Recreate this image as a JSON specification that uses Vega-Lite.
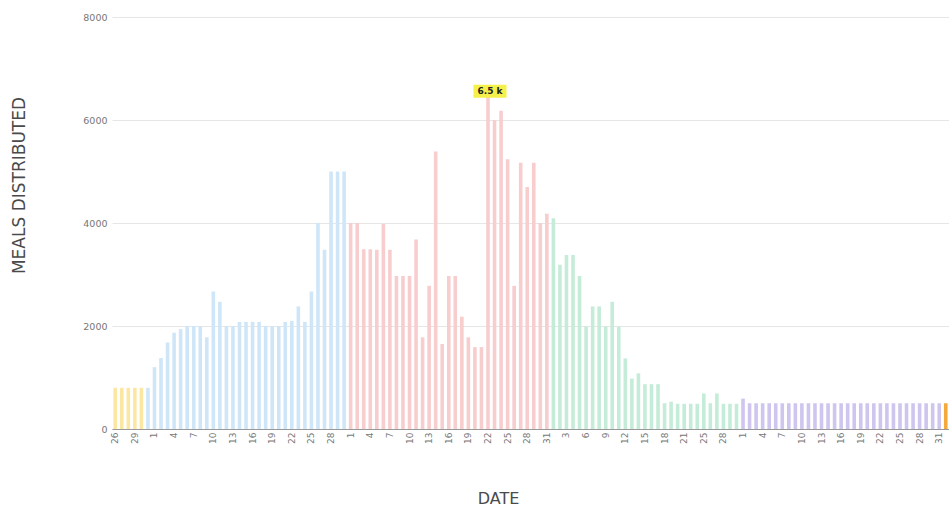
{
  "$schema": "https://vega.github.io/schema/vega-lite/v6.json",
  "width": 837,
  "height": 412,
  "autosize": {"type": "none"},
  "padding": {"left": 112, "top": 17, "right": 0, "bottom": 78},
  "background": "white",
  "config": {"view": {"stroke": null}, "font": "DejaVu Sans"},
  "data": {"values": [
    {"date": "2020-03-26", "meals": 800, "period": "1"},
    {"date": "2020-03-27", "meals": 800, "period": "1"},
    {"date": "2020-03-28", "meals": 800, "period": "1"},
    {"date": "2020-03-29", "meals": 800, "period": "1"},
    {"date": "2020-03-30", "meals": 800, "period": "1"},
    {"date": "2020-03-31", "meals": 800, "period": "2"},
    {"date": "2020-04-01", "meals": 1200, "period": "2"},
    {"date": "2020-04-02", "meals": 1380, "period": "2"},
    {"date": "2020-04-03", "meals": 1680, "period": "2"},
    {"date": "2020-04-04", "meals": 1870, "period": "2"},
    {"date": "2020-04-05", "meals": 1940, "period": "2"},
    {"date": "2020-04-06", "meals": 2000, "period": "2"},
    {"date": "2020-04-07", "meals": 2000, "period": "2"},
    {"date": "2020-04-08", "meals": 2000, "period": "2"},
    {"date": "2020-04-09", "meals": 1780, "period": "2"},
    {"date": "2020-04-10", "meals": 2670, "period": "2"},
    {"date": "2020-04-11", "meals": 2470, "period": "2"},
    {"date": "2020-04-12", "meals": 2000, "period": "2"},
    {"date": "2020-04-13", "meals": 2000, "period": "2"},
    {"date": "2020-04-14", "meals": 2080, "period": "2"},
    {"date": "2020-04-15", "meals": 2080, "period": "2"},
    {"date": "2020-04-16", "meals": 2080, "period": "2"},
    {"date": "2020-04-17", "meals": 2080, "period": "2"},
    {"date": "2020-04-18", "meals": 2000, "period": "2"},
    {"date": "2020-04-19", "meals": 2000, "period": "2"},
    {"date": "2020-04-20", "meals": 2000, "period": "2"},
    {"date": "2020-04-21", "meals": 2080, "period": "2"},
    {"date": "2020-04-22", "meals": 2100, "period": "2"},
    {"date": "2020-04-23", "meals": 2380, "period": "2"},
    {"date": "2020-04-24", "meals": 2080, "period": "2"},
    {"date": "2020-04-25", "meals": 2670, "period": "2"},
    {"date": "2020-04-26", "meals": 4000, "period": "2"},
    {"date": "2020-04-27", "meals": 3480, "period": "2"},
    {"date": "2020-04-28", "meals": 5000, "period": "2"},
    {"date": "2020-04-29", "meals": 5000, "period": "2"},
    {"date": "2020-04-30", "meals": 5000, "period": "2"},
    {"date": "2020-05-01", "meals": 4000, "period": "3"},
    {"date": "2020-05-02", "meals": 4000, "period": "3"},
    {"date": "2020-05-03", "meals": 3490, "period": "3"},
    {"date": "2020-05-04", "meals": 3490, "period": "3"},
    {"date": "2020-05-05", "meals": 3480, "period": "3"},
    {"date": "2020-05-06", "meals": 3980, "period": "3"},
    {"date": "2020-05-07", "meals": 3480, "period": "3"},
    {"date": "2020-05-08", "meals": 2970, "period": "3"},
    {"date": "2020-05-09", "meals": 2970, "period": "3"},
    {"date": "2020-05-10", "meals": 2970, "period": "3"},
    {"date": "2020-05-11", "meals": 3680, "period": "3"},
    {"date": "2020-05-12", "meals": 1780, "period": "3"},
    {"date": "2020-05-13", "meals": 2780, "period": "3"},
    {"date": "2020-05-14", "meals": 5390, "period": "3"},
    {"date": "2020-05-15", "meals": 1650, "period": "3"},
    {"date": "2020-05-16", "meals": 2970, "period": "3"},
    {"date": "2020-05-17", "meals": 2970, "period": "3"},
    {"date": "2020-05-18", "meals": 2180, "period": "3"},
    {"date": "2020-05-19", "meals": 1780, "period": "3"},
    {"date": "2020-05-20", "meals": 1590, "period": "3"},
    {"date": "2020-05-21", "meals": 1590, "period": "3"},
    {"date": "2020-05-22", "meals": 6500, "period": "3"},
    {"date": "2020-05-23", "meals": 6000, "period": "3"},
    {"date": "2020-05-24", "meals": 6180, "period": "3"},
    {"date": "2020-05-25", "meals": 5240, "period": "3"},
    {"date": "2020-05-26", "meals": 2780, "period": "3"},
    {"date": "2020-05-27", "meals": 5170, "period": "3"},
    {"date": "2020-05-28", "meals": 4700, "period": "3"},
    {"date": "2020-05-29", "meals": 5170, "period": "3"},
    {"date": "2020-05-30", "meals": 4000, "period": "3"},
    {"date": "2020-05-31", "meals": 4180, "period": "3"},
    {"date": "2020-06-01", "meals": 4090, "period": "4"},
    {"date": "2020-06-02", "meals": 3190, "period": "4"},
    {"date": "2020-06-03", "meals": 3380, "period": "4"},
    {"date": "2020-06-04", "meals": 3380, "period": "4"},
    {"date": "2020-06-05", "meals": 2970, "period": "4"},
    {"date": "2020-06-06", "meals": 1990, "period": "4"},
    {"date": "2020-06-07", "meals": 2380, "period": "4"},
    {"date": "2020-06-08", "meals": 2380, "period": "4"},
    {"date": "2020-06-09", "meals": 1990, "period": "4"},
    {"date": "2020-06-10", "meals": 2470, "period": "4"},
    {"date": "2020-06-11", "meals": 1990, "period": "4"},
    {"date": "2020-06-12", "meals": 1370, "period": "4"},
    {"date": "2020-06-13", "meals": 980, "period": "4"},
    {"date": "2020-06-14", "meals": 1080, "period": "4"},
    {"date": "2020-06-15", "meals": 870, "period": "4"},
    {"date": "2020-06-16", "meals": 870, "period": "4"},
    {"date": "2020-06-17", "meals": 870, "period": "4"},
    {"date": "2020-06-18", "meals": 500, "period": "4"},
    {"date": "2020-06-19", "meals": 530, "period": "4"},
    {"date": "2020-06-20", "meals": 490, "period": "4"},
    {"date": "2020-06-21", "meals": 490, "period": "4"},
    {"date": "2020-06-23", "meals": 490, "period": "4"},
    {"date": "2020-06-24", "meals": 490, "period": "4"},
    {"date": "2020-06-25", "meals": 690, "period": "4"},
    {"date": "2020-06-26", "meals": 500, "period": "4"},
    {"date": "2020-06-27", "meals": 690, "period": "4"},
    {"date": "2020-06-28", "meals": 490, "period": "4"},
    {"date": "2020-06-29", "meals": 490, "period": "4"},
    {"date": "2020-06-30", "meals": 490, "period": "4"},
    {"date": "2020-07-01", "meals": 590, "period": "5"},
    {"date": "2020-07-02", "meals": 500, "period": "5"},
    {"date": "2020-07-03", "meals": 500, "period": "5"},
    {"date": "2020-07-04", "meals": 500, "period": "5"},
    {"date": "2020-07-05", "meals": 500, "period": "5"},
    {"date": "2020-07-06", "meals": 500, "period": "5"},
    {"date": "2020-07-07", "meals": 500, "period": "5"},
    {"date": "2020-07-08", "meals": 500, "period": "5"},
    {"date": "2020-07-09", "meals": 500, "period": "5"},
    {"date": "2020-07-10", "meals": 500, "period": "5"},
    {"date": "2020-07-11", "meals": 500, "period": "5"},
    {"date": "2020-07-12", "meals": 500, "period": "5"},
    {"date": "2020-07-13", "meals": 500, "period": "5"},
    {"date": "2020-07-14", "meals": 500, "period": "5"},
    {"date": "2020-07-15", "meals": 500, "period": "5"},
    {"date": "2020-07-16", "meals": 500, "period": "5"},
    {"date": "2020-07-17", "meals": 500, "period": "5"},
    {"date": "2020-07-18", "meals": 500, "period": "5"},
    {"date": "2020-07-19", "meals": 500, "period": "5"},
    {"date": "2020-07-20", "meals": 500, "period": "5"},
    {"date": "2020-07-21", "meals": 500, "period": "5"},
    {"date": "2020-07-22", "meals": 500, "period": "5"},
    {"date": "2020-07-23", "meals": 500, "period": "5"},
    {"date": "2020-07-24", "meals": 500, "period": "5"},
    {"date": "2020-07-25", "meals": 500, "period": "5"},
    {"date": "2020-07-26", "meals": 500, "period": "5"},
    {"date": "2020-07-27", "meals": 500, "period": "5"},
    {"date": "2020-07-28", "meals": 500, "period": "5"},
    {"date": "2020-07-29", "meals": 500, "period": "5"},
    {"date": "2020-07-30", "meals": 500, "period": "5"},
    {"date": "2020-07-31", "meals": 500, "period": "5"},
    {"date": "2020-08-01", "meals": 500, "period": "6"}
  ]},
  "encoding": {
    "x": {
      "field": "date", "type": "ordinal", "sort": null,
      "scale": {"paddingInner": 0.45, "paddingOuter": 0.22},
      "axis": {
        "title": "DATE",
        "titleFont": "DejaVu Sans", "titleFontSize": 16, "titleFontWeight": "normal", "titleColor": "#4a4a4a",
        "titleBaseline": "middle", "titleX": 386, "titleY": 69,
        "labelExpr": "'' + toNumber(slice(datum.value, 8))",
        "labelAngle": -90, "labelFontSize": 9, "labelColor": "#777", "labelPadding": 3,
        "ticks": false, "domainColor": "#999", "domainWidth": 1, "grid": false,
        "values": ["2020-03-26","2020-03-29","2020-04-01","2020-04-04","2020-04-07","2020-04-10","2020-04-13","2020-04-16","2020-04-19","2020-04-22","2020-04-25","2020-04-28","2020-05-01","2020-05-04","2020-05-07","2020-05-10","2020-05-13","2020-05-16","2020-05-19","2020-05-22","2020-05-25","2020-05-28","2020-05-31","2020-06-03","2020-06-06","2020-06-09","2020-06-12","2020-06-15","2020-06-18","2020-06-21","2020-06-25","2020-06-28","2020-07-01","2020-07-04","2020-07-07","2020-07-10","2020-07-13","2020-07-16","2020-07-19","2020-07-22","2020-07-25","2020-07-28","2020-07-31"]
      }
    },
    "y": {
      "field": "meals", "type": "quantitative",
      "scale": {"domain": [0, 8000], "nice": false},
      "axis": {
        "title": "MEALS DISTRIBUTED",
        "titleFont": "DejaVu Sans", "titleFontSize": 17, "titleFontWeight": "normal", "titleColor": "#4a4a4a",
        "titleBaseline": "middle", "titleX": -93, "titleY": 168, "titleAngle": -90,
        "values": [0, 2000, 4000, 6000, 8000], "format": "d",
        "labelFontSize": 9.5, "labelColor": "#777", "labelPadding": 5,
        "ticks": false, "domain": false, "gridColor": "#e6e6e6", "gridWidth": 1
      }
    }
  },
  "layer": [
    {
      "mark": {"type": "bar"},
      "encoding": {
        "color": {
          "field": "period", "type": "nominal", "legend": null,
          "scale": {"domain": ["1","2","3","4","5","6"], "range": ["#FCE7A2","#CFE6F8","#F8CDCE","#C5ECD8","#CEC6EE","#F4A93C"]}
        }
      }
    },
    {
      "transform": [{"filter": "datum.meals == 6500"}],
      "mark": {"type": "point", "shape": "M-1,-0.4H1V0.4H-1Z", "size": 1089, "filled": true, "color": "#F6F04A", "opacity": 1, "yOffset": -3, "xOffset": 2}
    },
    {
      "transform": [{"filter": "datum.meals == 6500"}],
      "mark": {"type": "text", "text": "6.5 k", "font": "DejaVu Sans", "fontSize": 9, "fontWeight": "bold", "color": "#222", "baseline": "middle", "align": "center", "yOffset": -3, "xOffset": 2}
    }
  ]
}
